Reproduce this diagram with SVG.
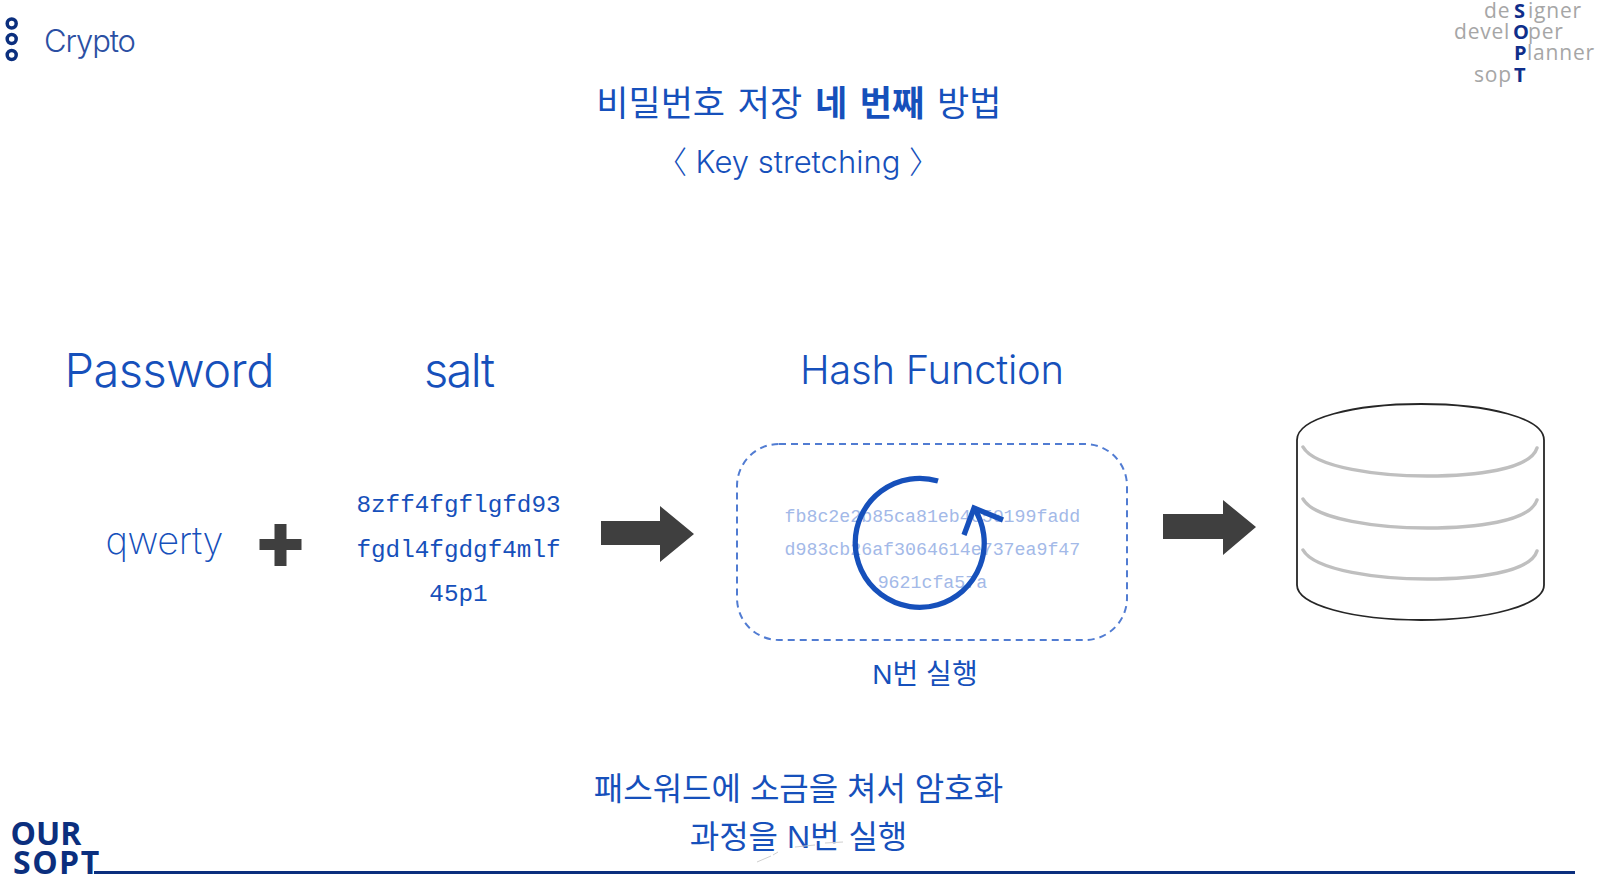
<svg xmlns="http://www.w3.org/2000/svg" width="1609" height="883" viewBox="0 0 1609 883">
<style>
text{font-family:"Liberation Sans","Noto Sans CJK KR",sans-serif;fill:#1650bb}
.m{text-anchor:middle}
.k{font-size:32px}
.l{font-family:Inter,"Liberation Sans","Noto Sans CJK KR",sans-serif;font-weight:300}
.h{font-size:47px}
.c{font-family:"Liberation Mono",monospace;font-size:24.3px;text-anchor:middle}
.g{font-family:"Liberation Mono",monospace;font-size:18.25px;text-anchor:middle;fill:#a3b9e8}
.s{font-family:"Open Sans","Liberation Sans",sans-serif;font-size:21px;fill:#a6a6a6;letter-spacing:.8px}
.b{font-size:20px;font-weight:700;fill:#0f2e8a;letter-spacing:0}
.f{font-family:"Open Sans","Liberation Sans",sans-serif;font-size:32px;font-weight:700;fill:#0b2f7e}
.db{fill:none;stroke:#bfbfbf;stroke-width:3.5;stroke-linecap:round}
.arr{fill:#3f3f3f}
</style>
<rect width="1609" height="883" fill="#fff"/>
<g id="header-dots" fill="none" stroke="#0b2f7e" stroke-width="3.5">
<circle cx="11.7" cy="23.5" r="4.5"/><circle cx="11.7" cy="39" r="4.5"/><circle cx="11.7" cy="55" r="4.5"/>
</g>
<text id="header" class="l" x="44" y="52" font-size="31" style="fill:#2b4fa3" textLength="92">Crypto</text>
<g id="sopt-tag">
<text class="s" y="18"><tspan x="1484">de</tspan><tspan class="b" x="1514">S</tspan><tspan x="1528">igner</tspan></text>
<text class="s" y="39"><tspan x="1454">devel</tspan><tspan class="b" x="1513">O</tspan><tspan x="1528">per</tspan></text>
<text class="s" y="60"><tspan class="b" x="1514">P</tspan><tspan x="1527">lanner</tspan></text>
<text class="s" y="82"><tspan x="1474">sop</tspan><tspan class="b" x="1514">T</tspan></text>
</g>
<g id="title">
<text class="m" x="798.800" y="116" font-size="35" word-spacing="3">비밀번호 저장 <tspan font-weight="700">네 번째</tspan> 방법</text>
<text class="m l" x="798" y="173" font-size="31">〈 Key stretching 〉</text>
</g>
<text id="password" class="h l" x="64.500" y="387" textLength="210">Password</text>
<text id="salt" class="h l" x="424" y="387" textLength="71">salt</text>
<text id="hash-label" class="l" x="800" y="384" font-size="40" textLength="264">Hash Function</text>
<text id="qwerty" class="l" x="105.500" y="554" font-size="38" textLength="118" style="font-weight:200">qwerty</text>
<path id="plus" class="arr" d="M274.500 524h12v15h15v11h-15v16h-12v-16h-15v-11h15z"/>
<g id="salt-value">
<text class="c" x="458.500" y="512">8zff4fgflgfd93</text>
<text class="c" x="458.500" y="557">fgdl4fgdgf4mlf</text>
<text class="c" x="458.500" y="601">45p1</text>
</g>
<g id="connectors">
<path class="arr" d="M601 521h59v-15l34 28-34 28v-17h-59z"/>
<path class="arr" d="M1163 514h60v-14l33 27-33 28v-16h-60z"/>
</g>
<g id="hash-function">
<rect x="737" y="444" width="390" height="196" rx="42" fill="none" stroke="#517cd2" stroke-width="2" stroke-dasharray="7 5"/>
<text class="g" x="932.400" y="522">fb8c2e2b85ca81eb4c50199fadd</text>
<text class="g" x="932.400" y="555">d983cb26af3064614e737ea9f47</text>
<text class="g" x="932.400" y="588">9621cfa57a</text>
<path d="M938 481A64.500 64.500 0 1 0 974 508" fill="none" stroke="#1650bb" stroke-width="5.300"/>
<path d="M964 535L974 508L1003 520" fill="none" stroke="#1650bb" stroke-width="5.300"/>
<text class="m" x="925" y="684" font-size="28">N번 실행</text>
</g>
<g id="database" fill="none">
<path d="M1297 440C1297 418 1354 404 1421 404S1544 418 1544 440V585C1544 605 1489 620 1421 620S1297 605 1297 585Z" stroke="#262626" stroke-width="1.8"/>
<path class="db" d="M1303 447C1315 468 1380 476 1427 476S1530 470 1537 448"/>
<path class="db" d="M1303 499C1315 520 1380 528 1427 528S1530 522 1537 500"/>
<path class="db" d="M1303 550C1315 571 1380 579 1427 579S1530 573 1537 551"/>
</g>
<g id="caption">
<text class="m k" x="798.500" y="800">패스워드에 소금을 쳐서 암호화</text>
<text class="m k" x="798.500" y="848">과정을 N번 실행</text>
<path d="M757 862L771 856M773 855L778 852M795 847L815 845M825 843L843 842" fill="none" stroke="#cfcfcf" stroke-width="1"/>
</g>
<g id="footer">
<text class="f" x="10.500" y="845">OUR</text>
<text class="f" x="13" y="874" letter-spacing="1.500">SOPT</text>
<path d="M94 872.500H1575" stroke="#0b2f7e" stroke-width="3"/>
</g>
</svg>
